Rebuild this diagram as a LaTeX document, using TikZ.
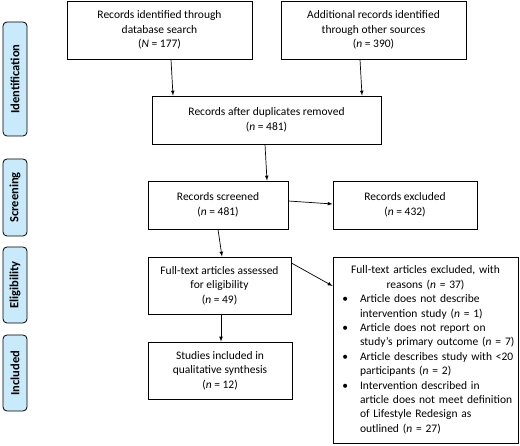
\documentclass[tikz,border=0pt]{standalone}
\usepackage{fontspec}
\setmainfont{Carlito}
\definecolor{stagefill}{RGB}{200,234,250}
\newcommand{\nn}{\textit{n}}
\begin{document}
\begin{tikzpicture}[x=1pt,y=-1pt,
    box/.style={draw, line width=0.8pt, align=center, inner sep=0pt, font=\fontsize{11.5}{14.4}\selectfont},
    stage/.style={draw, line width=0.8pt, fill=stagefill, rounded corners=4pt, minimum height=24pt, inner sep=0pt, rotate=90, font=\fontsize{12.5}{14}\selectfont\bfseries},
    arr/.style={->, >=latex, line width=0.7pt}]
    \useasboundingbox (0,0) rectangle (520,446);
    % stages
    \node[stage, minimum width=114pt] (ident) at (15,79) {Identification};
    \node[stage, minimum width=77pt] (screen) at (15,197.5) {Screening};
    \node[stage, minimum width=76pt] (elig) at (15,285) {Eligibility};
    \node[stage, minimum width=76pt] (incl) at (15,373) {Included};
    % boxes
    \node[box, minimum width=185pt, minimum height=58pt] (dbs) at (159.5,30) {Records identified through\\database search\\(\textit{N} = 177)};
    \node[box, minimum width=185pt, minimum height=58pt] (other) at (373.5,30) {Additional records identified\\through other sources\\(\nn{} = 390)};
    \node[box, minimum width=229pt, minimum height=48pt] (dedup) at (266.5,120) {Records after duplicates removed\\(\nn{} = 481)};
    \node[box, minimum width=140pt, minimum height=48pt] (screened) at (218,205) {Records screened\\(\nn{} = 481)};
    \node[box, minimum width=144pt, minimum height=48pt] (excl) at (405,205) {Records excluded\\(\nn{} = 432)};
    \node[box, minimum width=143pt, minimum height=57pt] (fulltext) at (219.5,285.5) {Full-text articles assessed\\for eligibility\\(\nn{} = 49)};
    \node[box, minimum width=144pt, minimum height=57pt] (studies) at (220,370.5) {Studies included in\\qualitative synthesis\\(\nn{} = 12)};
    \node[box, minimum width=185pt, minimum height=186pt, text width=175pt, align=left] (reasons) at (425.5,350) {%
      \centering Full-text articles excluded, with\\reasons (\nn{} = 37)\par
      \begin{list}{\textbullet}{\setlength{\leftmargin}{22pt}\setlength{\labelwidth}{10pt}\setlength{\labelsep}{12pt}%
        \setlength{\rightmargin}{-10pt}\setlength{\itemsep}{0pt}\setlength{\topsep}{0pt}\setlength{\parsep}{0pt}\setlength{\partopsep}{0pt}}
      \raggedright
      \item Article does not describe\\intervention study (\nn{} = 1)
      \item Article does not report on\\study's primary outcome (\nn{} = 7)
      \item Article describes study with <20\\participants (\nn{} = 2)
      \item Intervention described in\\article does not meet definition\\of Lifestyle Redesign as\\outlined (\nn{} = 27)
      \end{list}};
    % arrows
    \draw[arr] ([xshift=11.5pt]dbs.south) -- ([xshift=-93.5pt]dedup.north);
    \draw[arr] ([xshift=-13.5pt]other.south) -- ([xshift=95.5pt]dedup.north);
    \draw[arr] ([xshift=-1.5pt]dedup.south) -- ([xshift=49pt]screened.north);
    \draw[arr] ([yshift=4pt]screened.east) -- ([yshift=1pt]excl.west);
    \draw[arr] (screened.south) -- ([xshift=2.5pt]fulltext.north);
    \draw[arr] ([yshift=22.5pt]fulltext.east) -- ([yshift=64pt]reasons.west);
    \draw[arr] ([xshift=1.5pt]fulltext.south) -- ([xshift=1pt]studies.north);
\end{tikzpicture}
\end{document}
